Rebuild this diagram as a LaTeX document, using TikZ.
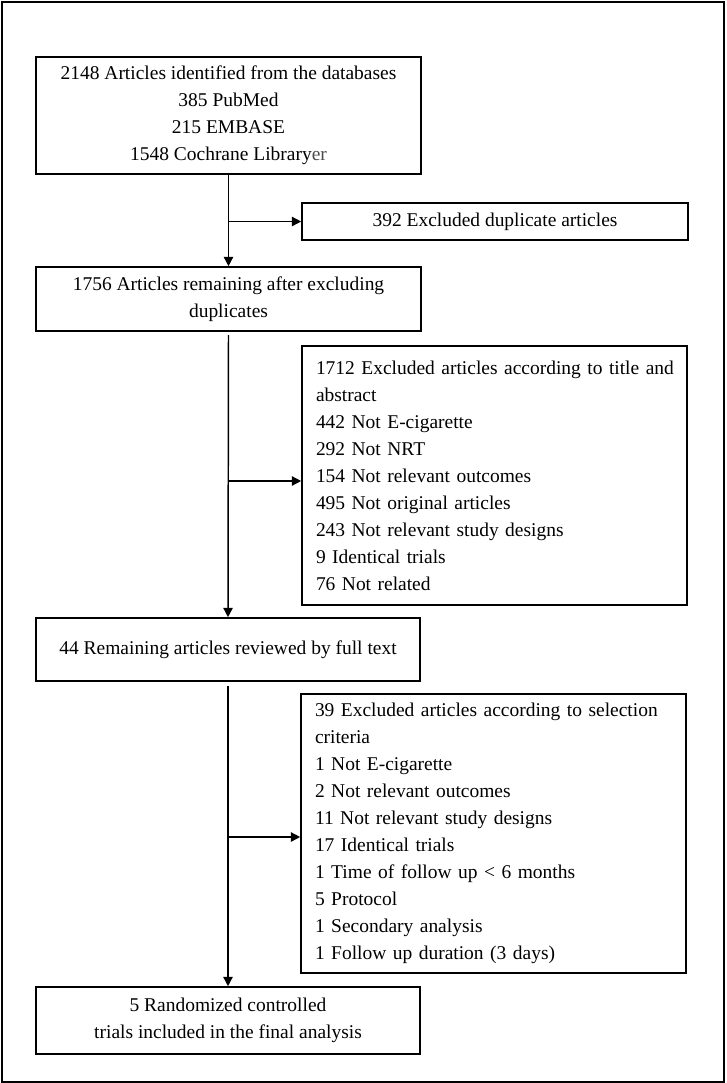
\documentclass[tikz,border=0pt]{standalone}
\usepackage{fontspec}
\setmainfont{Liberation Serif}
\usetikzlibrary{arrows.meta}
\begin{document}
\begin{tikzpicture}[x=0.75pt,y=-0.75pt,
  every node/.style={font=\fontsize{14.6pt}{20.25pt}\selectfont},
  box/.style={draw,line width=1.2pt,inner sep=0pt,align=center},
  lbox/.style={draw,line width=1.2pt,inner sep=0pt,align=left,text width=357*0.75pt},
  arr/.style={line width=1.1pt,-{Triangle[length=7pt,width=7pt]}}]
\useasboundingbox (0,0) rectangle (726,1083);
\draw[line width=1.3pt] (2,2) rectangle (724,1082);

\node[box,minimum width=385*0.75pt,minimum height=117*0.75pt] (b1) at (228.5,115.5)
  {2148 Articles identified from the databases\\385 PubMed\\215 EMBASE\\1548 Cochrane Library{\color{black!70}er}};
\node[box,minimum width=386*0.75pt,minimum height=37*0.75pt] (dup) at (495,221.5)
  {392 Excluded duplicate articles};
\node[box,minimum width=385*0.75pt,minimum height=64*0.75pt] (b2) at (228.5,299)
  {1756 Articles remaining after excluding\\duplicates};
\node[lbox,minimum width=385*0.75pt,minimum height=259*0.75pt] (b3) at (494.5,475.5)
  {\mbox{1712 Excluded articles according to title and}\\abstract\\442 Not E-cigarette\\292 Not NRT\\154 Not relevant outcomes\\495 Not original articles\\243 Not relevant study designs\\9 Identical trials\\76 Not related};
\node[box,minimum width=384*0.75pt,minimum height=63*0.75pt] (b4) at (228,649.5)
  {44 Remaining articles reviewed by full text};
\node[lbox,minimum width=385*0.75pt,minimum height=279*0.75pt] (b6) at (493.5,833.5)
  {\mbox{39 Excluded articles according to selection}\\criteria\\1 Not E-cigarette\\2 Not relevant outcomes\\11 Not relevant study designs\\17 Identical trials\\1 Time of follow up \textless{} 6 months\\5 Protocol\\1 Secondary analysis\\1 Follow up duration (3 days)};
\node[box,minimum width=384*0.75pt,minimum height=67*0.75pt] (b5) at (228,1020.5)
  {5 Randomized controlled\\trials included in the final analysis};

\draw[arr] (b1.south) -- (b2.north);
\draw[arr] (b1.south |- dup.west) -- (dup.west);
\draw[arr,shorten <=2.5pt] (b2.south) -- (b4.north);
\draw[arr] (b2.south |- b3.west) ++(0,5.5) coordinate (j3) -- (b3.west |- j3);
\draw[arr,shorten <=3.5pt] (b4.south) -- (b5.north);
\draw[arr] (b4.south |- b6.west) ++(0,3.5) coordinate (j6) -- (b6.west |- j6);
\end{tikzpicture}
\end{document}
